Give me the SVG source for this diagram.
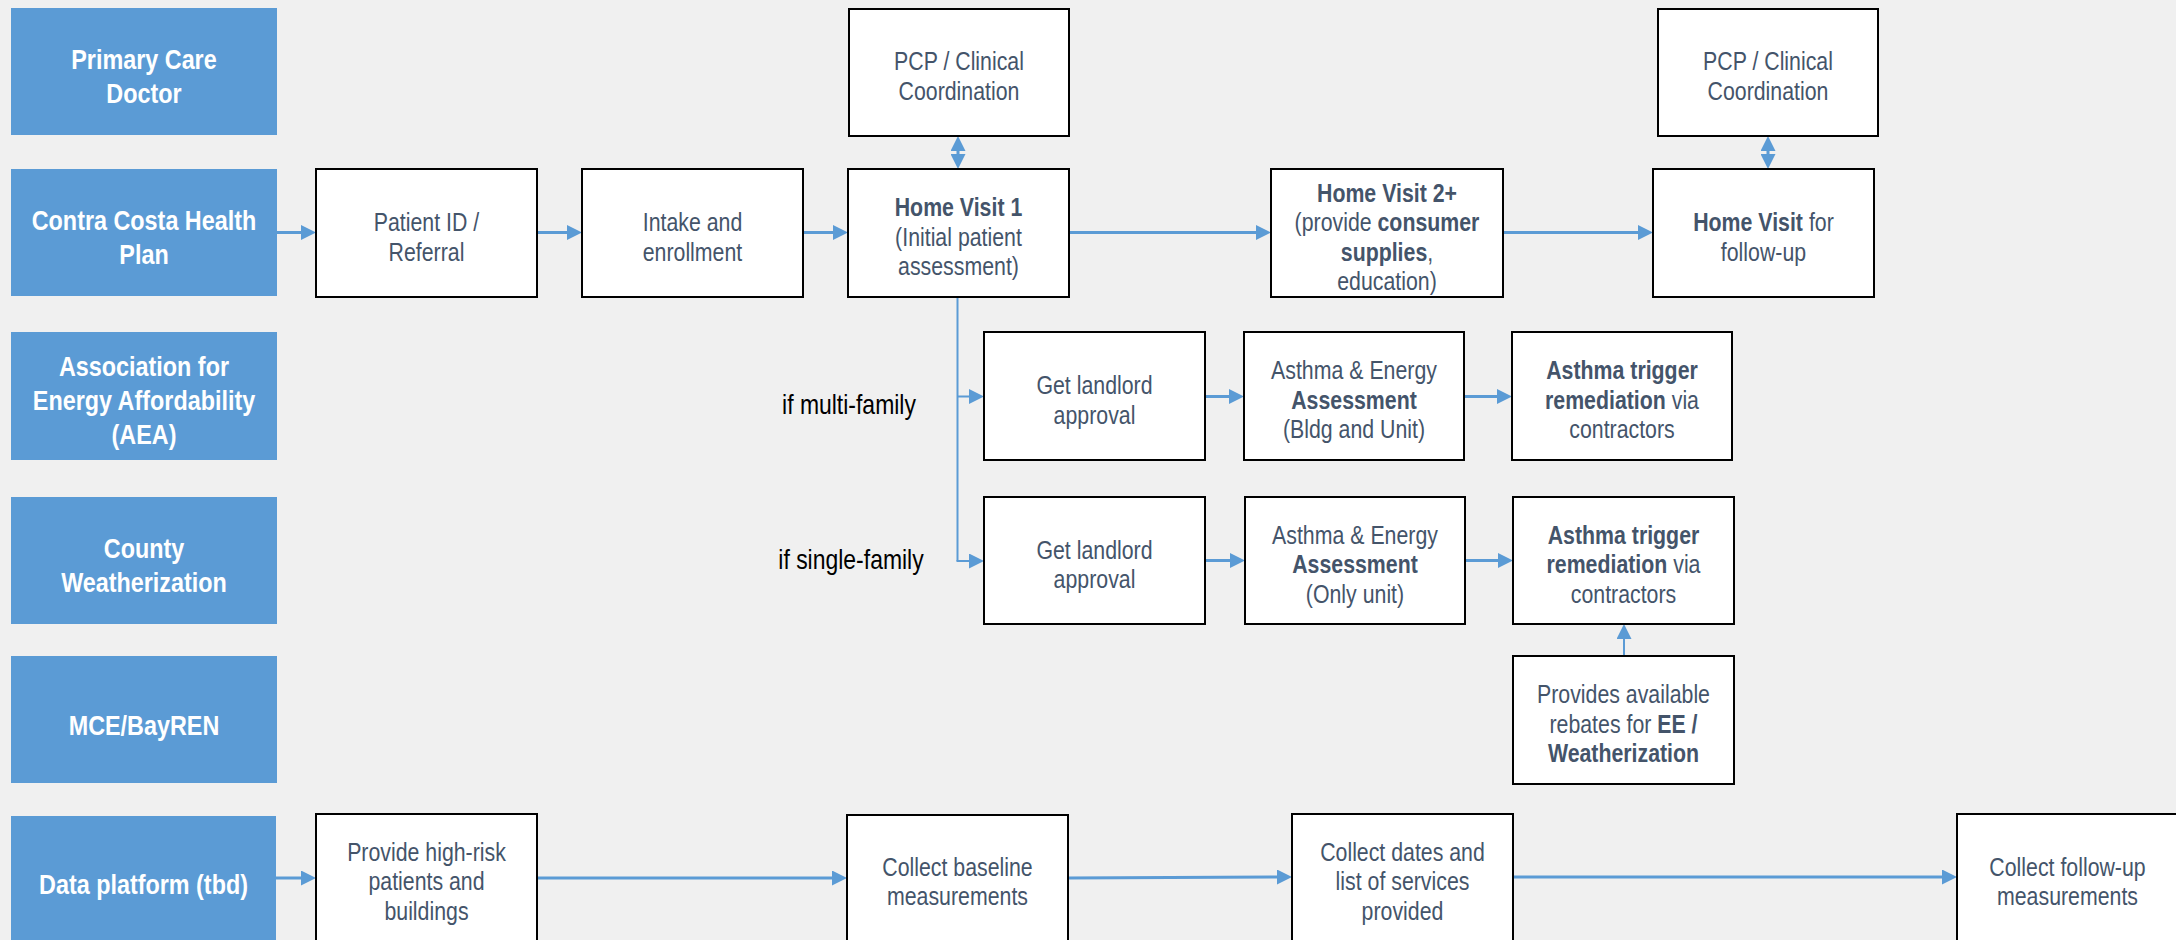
<svg xmlns="http://www.w3.org/2000/svg" width="2176" height="940" viewBox="0 0 2176 940">
<style>
.lane{fill:#5B9BD5}
.lt{font-family:"Liberation Sans",Arial,sans-serif;font-weight:bold;font-size:28.5px;fill:#fff;text-anchor:middle}
.box{fill:#fff;stroke:#000;stroke-width:2}
.nt{font-family:"Liberation Sans",Arial,sans-serif;font-size:26px;fill:#44546A;text-anchor:middle}
.b{font-weight:bold}
.lbl{font-family:"Liberation Sans",Arial,sans-serif;font-size:28px;fill:#000;text-anchor:middle}
.c{stroke:#5B9BD5;stroke-width:3;fill:none;marker-end:url(#ah)}
.c2{stroke:#5B9BD5;stroke-width:2;fill:none;marker-end:url(#ah)}
.d{stroke:#5B9BD5;stroke-width:3;fill:none;marker-end:url(#ah);marker-start:url(#ah)}
</style>
<defs>
<marker id="ah" viewBox="0 0 15 15" refX="11" refY="7.5" markerWidth="15" markerHeight="15" markerUnits="userSpaceOnUse" orient="auto-start-reverse">
<path d="M0 0L15 7.5L0 15z" fill="#5B9BD5"/>
</marker>
</defs>
<rect width="2176" height="940" fill="#F0F0F0"/>

<g id="lane-pcp"><rect class="lane" x="11" y="8" width="266" height="127"/><g transform="matrix(.82 0 0 1 25.92 0)"><text class="lt" x="144" y="69">Primary Care</text><text class="lt" x="144" y="103">Doctor</text></g></g>
<g id="lane-cchp"><rect class="lane" x="11" y="169" width="266" height="127"/><g transform="matrix(.82 0 0 1 25.92 0)"><text class="lt" x="144" y="230.5">Contra Costa Health</text><text class="lt" x="144" y="264.5">Plan</text></g></g>
<g id="lane-aea"><rect class="lane" x="11" y="332" width="266" height="128"/><g transform="matrix(.82 0 0 1 25.92 0)"><text class="lt" x="144" y="376">Association for</text><text class="lt" x="144" y="410">Energy Affordability</text><text class="lt" x="144" y="444">(AEA)</text></g></g>
<g id="lane-county"><rect class="lane" x="11" y="497" width="266" height="127"/><g transform="matrix(.82 0 0 1 25.92 0)"><text class="lt" x="144" y="558.5">County</text><text class="lt" x="144" y="592.5">Weatherization</text></g></g>
<g id="lane-mce"><rect class="lane" x="11" y="656" width="266" height="127"/><g transform="matrix(.82 0 0 1 25.92 0)"><text class="lt" x="144" y="735">MCE/BayREN</text></g></g>
<g id="lane-data"><rect class="lane" x="11" y="816" width="265" height="130"/><g transform="matrix(.82 0 0 1 25.83 0)"><text class="lt" x="143.5" y="894">Data platform (tbd)</text></g></g>

<g id="connectors">
<path class="c" d="M277 232.5H312"/>
<path class="c" d="M537 232.5H578"/>
<path class="c" d="M803 232.5H844"/>
<path class="c" d="M1069 232.5H1267"/>
<path class="c" d="M1503 232.5H1649"/>
<path class="d" d="M958 140V165"/>
<path class="d" d="M1768 140V165"/>
<path stroke="#5B9BD5" stroke-width="2" fill="none" d="M957.5 297V561"/>
<path class="c2" d="M957.5 396.5H980"/>
<path class="c2" d="M956.5 561H980"/>
<path class="c" d="M1205 396.5H1240"/>
<path class="c" d="M1464 396.5H1508"/>
<path class="c" d="M1205 560.5H1241"/>
<path class="c" d="M1465 560.5H1509"/>
<path class="c2" d="M1624 656V628"/>
<path class="c" d="M276 878H312"/>
<path class="c" d="M537 878H843"/>
<path class="c" d="M1068 878L1288 877"/>
<path class="c" d="M1513 877H1953"/>
</g>

<g id="pcp1"><rect class="box" x="849" y="9" width="220" height="127"/><g transform="matrix(.82 0 0 1 172.62 0)"><text class="nt" x="959" y="70.25">PCP / Clinical</text><text class="nt" x="959" y="99.75">Coordination</text></g></g>
<g id="pcp2"><rect class="box" x="1658" y="9" width="220" height="127"/><g transform="matrix(.82 0 0 1 318.24 0)"><text class="nt" x="1768" y="70.25">PCP / Clinical</text><text class="nt" x="1768" y="99.75">Coordination</text></g></g>

<g id="patient-id"><rect class="box" x="316" y="169" width="221" height="128"/><g transform="matrix(.82 0 0 1 76.77 0)"><text class="nt" x="426.5" y="231.25">Patient ID /</text><text class="nt" x="426.5" y="260.75">Referral</text></g></g>
<g id="intake"><rect class="box" x="582" y="169" width="221" height="128"/><g transform="matrix(.82 0 0 1 124.65 0)"><text class="nt" x="692.5" y="231.25">Intake and</text><text class="nt" x="692.5" y="260.75">enrollment</text></g></g>
<g id="hv1"><rect class="box" x="848" y="169" width="221" height="128"/><g transform="matrix(.82 0 0 1 172.53 0)"><text class="nt b" x="958.5" y="216.5">Home Visit 1</text><text class="nt" x="958.5" y="246">(Initial patient</text><text class="nt" x="958.5" y="275.5">assessment)</text></g></g>
<g id="hv2"><rect class="box" x="1271" y="169" width="232" height="128"/><g transform="matrix(.82 0 0 1 249.66 0)"><text class="nt b" x="1387" y="201.75">Home Visit 2+</text><text class="nt" x="1387" y="231.25">(provide <tspan class="b">consumer</tspan></text><text class="nt" x="1387" y="260.75"><tspan class="b">supplies</tspan>,</text><text class="nt" x="1387" y="290.25">education)</text></g></g>
<g id="hv-followup"><rect class="box" x="1653" y="169" width="221" height="128"/><g transform="matrix(.82 0 0 1 317.43 0)"><text class="nt" x="1763.5" y="231.25"><tspan class="b">Home Visit</tspan> for</text><text class="nt" x="1763.5" y="260.75">follow-up</text></g></g>

<g id="label-multi"><g transform="matrix(.82 0 0 1 152.82 0)"><text class="lbl" x="849" y="414">if multi-family</text></g></g>
<g id="label-single"><g transform="matrix(.82 0 0 1 153.18 0)"><text class="lbl" x="851" y="569">if single-family</text></g></g>

<g id="landlord1"><rect class="box" x="984" y="332" width="221" height="128"/><g transform="matrix(.82 0 0 1 197.01 0)"><text class="nt" x="1094.5" y="394.25">Get landlord</text><text class="nt" x="1094.5" y="423.75">approval</text></g></g>
<g id="assess1"><rect class="box" x="1244" y="332" width="220" height="128"/><g transform="matrix(.82 0 0 1 243.72 0)"><text class="nt" x="1354" y="379.5">Asthma &amp; Energy</text><text class="nt b" x="1354" y="409">Assessment</text><text class="nt" x="1354" y="438.5">(Bldg and Unit)</text></g></g>
<g id="trigger1"><rect class="box" x="1512" y="332" width="220" height="128"/><g transform="matrix(.82 0 0 1 291.96 0)"><text class="nt b" x="1622" y="379.5">Asthma trigger</text><text class="nt" x="1622" y="409"><tspan class="b">remediation</tspan> via</text><text class="nt" x="1622" y="438.5">contractors</text></g></g>

<g id="landlord2"><rect class="box" x="984" y="497" width="221" height="127"/><g transform="matrix(.82 0 0 1 197.01 0)"><text class="nt" x="1094.5" y="558.75">Get landlord</text><text class="nt" x="1094.5" y="588.25">approval</text></g></g>
<g id="assess2"><rect class="box" x="1245" y="497" width="220" height="127"/><g transform="matrix(.82 0 0 1 243.9 0)"><text class="nt" x="1355" y="544">Asthma &amp; Energy</text><text class="nt b" x="1355" y="573.5">Assessment</text><text class="nt" x="1355" y="603">(Only unit)</text></g></g>
<g id="trigger2"><rect class="box" x="1513" y="497" width="221" height="127"/><g transform="matrix(.82 0 0 1 292.23 0)"><text class="nt b" x="1623.5" y="544">Asthma trigger</text><text class="nt" x="1623.5" y="573.5"><tspan class="b">remediation</tspan> via</text><text class="nt" x="1623.5" y="603">contractors</text></g></g>

<g id="rebates"><rect class="box" x="1513" y="656" width="221" height="128"/><g transform="matrix(.82 0 0 1 292.23 0)"><text class="nt" x="1623.5" y="703.5">Provides available</text><text class="nt" x="1623.5" y="733">rebates for <tspan class="b">EE /</tspan></text><text class="nt b" x="1623.5" y="762.5">Weatherization</text></g></g>

<g id="high-risk"><rect class="box" x="316" y="814" width="221" height="140"/><g transform="matrix(.82 0 0 1 76.77 0)"><text class="nt" x="426.5" y="861">Provide high-risk</text><text class="nt" x="426.5" y="890.5">patients and</text><text class="nt" x="426.5" y="920">buildings</text></g></g>
<g id="baseline"><rect class="box" x="847" y="815" width="221" height="140"/><g transform="matrix(.82 0 0 1 172.35 0)"><text class="nt" x="957.5" y="875.75">Collect baseline</text><text class="nt" x="957.5" y="905.25">measurements</text></g></g>
<g id="dates"><rect class="box" x="1292" y="814" width="221" height="140"/><g transform="matrix(.82 0 0 1 252.45 0)"><text class="nt" x="1402.5" y="861">Collect dates and</text><text class="nt" x="1402.5" y="890.5">list of services</text><text class="nt" x="1402.5" y="920">provided</text></g></g>
<g id="followup-meas"><rect class="box" x="1957" y="814" width="221" height="140"/><g transform="matrix(.82 0 0 1 372.15 0)"><text class="nt" x="2067.5" y="875.75">Collect follow-up</text><text class="nt" x="2067.5" y="905.25">measurements</text></g></g>
</svg>
